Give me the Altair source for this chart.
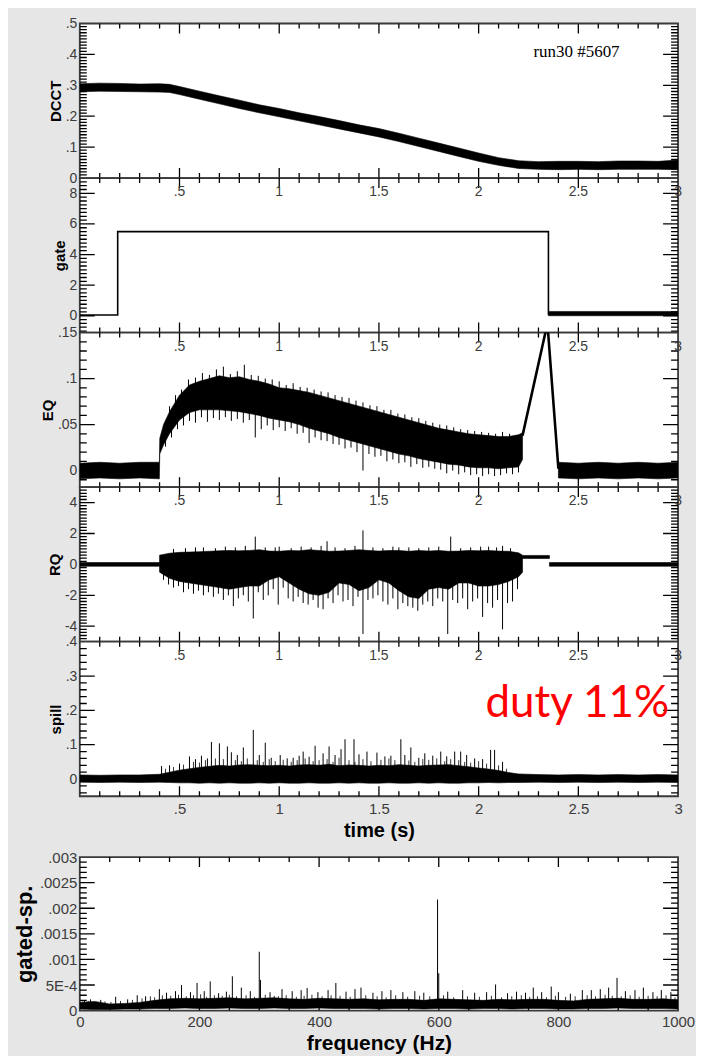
import json
import altair as alt
import pandas as pd

# ---------------------------------------------------------------
# values
# ---------------------------------------------------------------
time_major = [0.5, 1.0, 1.5, 2.0, 2.5, 3.0]

dcct_t = [0.0, 0.1, 0.2, 0.3, 0.4, 0.45, 0.5, 0.6, 0.7, 0.8, 0.9, 1.0, 1.1, 1.2, 1.3, 1.4, 1.5,
          1.6, 1.7, 1.8, 1.9, 2.0, 2.1, 2.2, 2.3, 2.4, 2.5, 2.6, 2.7, 2.8, 2.9, 3.0]
dcct_hi = [0.305, 0.307, 0.306, 0.304, 0.305, 0.303, 0.296, 0.281, 0.266, 0.252, 0.237, 0.225,
           0.211, 0.199, 0.186, 0.172, 0.160, 0.145, 0.129, 0.113, 0.097, 0.081, 0.066, 0.056,
           0.053, 0.054, 0.054, 0.053, 0.055, 0.055, 0.054, 0.058]
dcct_lo = [0.279, 0.281, 0.280, 0.279, 0.278, 0.277, 0.270, 0.255, 0.240, 0.225, 0.211, 0.198,
           0.185, 0.172, 0.159, 0.146, 0.133, 0.118, 0.102, 0.086, 0.070, 0.054, 0.041, 0.031,
           0.028, 0.027, 0.028, 0.027, 0.028, 0.028, 0.028, 0.027]

gate_t = [0.0, 0.19, 0.19, 2.35, 2.35, 3.0]
gate_v = [0.05, 0.05, 5.5, 5.5, 0.12, 0.12]
gate_thick_t = [2.35, 3.0]
gate_thick_lo = [0.0, 0.0]
gate_thick_hi = [0.28, 0.28]

eq_t = [0.0, 0.1, 0.2, 0.3, 0.399, 0.401, 0.42, 0.45, 0.5, 0.55, 0.6, 0.65, 0.7, 0.75, 0.8, 0.85,
        0.9, 0.95, 1.0, 1.05, 1.1, 1.15, 1.2, 1.25, 1.3, 1.35, 1.4, 1.45, 1.5, 1.55, 1.6, 1.65,
        1.7, 1.75, 1.8, 1.85, 1.9, 1.95, 2.0, 2.05, 2.1, 2.15, 2.2, 2.22]
eq_hi = [0.008, 0.009, 0.008, 0.009, 0.009, 0.035, 0.050, 0.064, 0.082, 0.093, 0.097, 0.100,
         0.103, 0.101, 0.102, 0.099, 0.097, 0.094, 0.090, 0.089, 0.087, 0.085, 0.082, 0.079,
         0.076, 0.073, 0.070, 0.067, 0.064, 0.061, 0.058, 0.055, 0.052, 0.049, 0.046, 0.044,
         0.042, 0.040, 0.039, 0.038, 0.037, 0.037, 0.039, 0.041]
eq_lo = [-0.009, -0.008, -0.009, -0.008, -0.009, 0.018, 0.028, 0.040, 0.055, 0.063, 0.066, 0.066,
         0.066, 0.065, 0.064, 0.062, 0.060, 0.057, 0.055, 0.053, 0.050, 0.046, 0.043, 0.040,
         0.036, 0.033, 0.030, 0.027, 0.024, 0.021, 0.018, 0.016, 0.013, 0.011, 0.009, 0.007,
         0.006, 0.004, 0.003, 0.003, 0.002, 0.003, 0.004, 0.012]
eq2_t = [2.40, 2.5, 2.6, 2.7, 2.8, 2.9, 3.0]
eq2_hi = [0.009, 0.008, 0.009, 0.008, 0.009, 0.008, 0.009]
eq2_lo = [-0.008, -0.009, -0.008, -0.009, -0.008, -0.009, -0.008]
eq_ramp_t = [2.22, 2.345, 2.40]
eq_ramp_v = [0.038, 0.160, 0.002]
eq_dn_t = [0.43, 0.46, 0.49, 0.52, 0.55, 0.58, 0.61, 0.64, 0.67, 0.70,
           0.73, 0.76, 0.79, 0.82, 0.85, 0.88, 0.91, 0.94, 0.97, 1.00,
           1.03, 1.06, 1.09, 1.12, 1.15, 1.18, 1.21, 1.24, 1.27, 1.30,
           1.33, 1.36, 1.39, 1.42, 1.45, 1.48, 1.51, 1.54, 1.57, 1.60,
           1.63, 1.66, 1.69, 1.72, 1.75, 1.78, 1.81, 1.84, 1.87, 1.90,
           1.93, 1.96, 1.99, 2.02, 2.05, 2.08, 2.11, 2.14, 2.17, 2.20]
eq_dn_tip = [0.026, 0.036, 0.045, 0.049, 0.054, 0.052, 0.058, 0.053, 0.057, 0.055,
             0.058, 0.054, 0.056, 0.052, 0.055, 0.036, 0.045, 0.049, 0.044, 0.047,
             0.043, 0.046, 0.040, 0.041, 0.030, 0.036, 0.033, 0.032, 0.029, 0.028,
             0.024, 0.025, 0.020, 0.000, 0.018, 0.015, 0.016, 0.010, 0.012, 0.008,
             0.009, 0.004, 0.007, 0.003, 0.004, 0.002, 0.001, -0.003, 0.000, -0.004,
             -0.002, -0.005, -0.004, -0.006, -0.004, -0.006, -0.005, -0.003, -0.004, -0.002]
eq_dn_base = [0.038, 0.049, 0.058, 0.064, 0.069, 0.071, 0.072, 0.072, 0.072, 0.072,
              0.071, 0.071, 0.070, 0.069, 0.068, 0.067, 0.066, 0.064, 0.062, 0.061,
              0.060, 0.059, 0.057, 0.055, 0.052, 0.050, 0.048, 0.047, 0.044, 0.042,
              0.040, 0.038, 0.036, 0.035, 0.033, 0.031, 0.029, 0.027, 0.026, 0.024,
              0.023, 0.021, 0.020, 0.018, 0.017, 0.016, 0.015, 0.013, 0.013, 0.012,
              0.011, 0.010, 0.009, 0.009, 0.009, 0.008, 0.008, 0.009, 0.009, 0.010]
eq_up_t = [0.45, 0.48, 0.51, 0.545, 0.58, 0.615, 0.65, 0.685, 0.72, 0.755,
           0.79, 0.825, 0.86, 0.895, 0.93, 0.965, 1.0, 1.035, 1.07, 1.105,
           1.14, 1.175, 1.21, 1.245, 1.28, 1.315, 1.35, 1.385, 1.42, 1.455,
           1.49, 1.525, 1.56, 1.595, 1.63, 1.665, 1.70, 1.735, 1.77, 1.805,
           1.84, 1.875, 1.91, 1.945, 1.98, 2.015, 2.05, 2.085, 2.12, 2.155]
eq_up_tip = [0.070, 0.082, 0.088, 0.099, 0.101, 0.106, 0.104, 0.110, 0.113, 0.105,
             0.108, 0.115, 0.104, 0.103, 0.100, 0.099, 0.097, 0.093, 0.095, 0.091,
             0.090, 0.088, 0.086, 0.085, 0.082, 0.080, 0.079, 0.076, 0.074, 0.071,
             0.070, 0.066, 0.066, 0.062, 0.061, 0.058, 0.057, 0.054, 0.052, 0.050,
             0.049, 0.047, 0.045, 0.044, 0.043, 0.042, 0.041, 0.040, 0.042, 0.040]
eq_up_base = [0.058, 0.069, 0.078, 0.086, 0.089, 0.092, 0.094, 0.096, 0.096, 0.095,
              0.096, 0.094, 0.093, 0.091, 0.089, 0.087, 0.084, 0.083, 0.082, 0.081,
              0.079, 0.077, 0.075, 0.073, 0.071, 0.069, 0.067, 0.065, 0.063, 0.061,
              0.059, 0.056, 0.054, 0.052, 0.050, 0.048, 0.046, 0.044, 0.042, 0.040,
              0.038, 0.037, 0.036, 0.034, 0.033, 0.032, 0.032, 0.031, 0.031, 0.031]

rq_a_t = [0.0, 0.4]
rq_a_hi = [0.12, 0.12]
rq_a_lo = [-0.12, -0.12]
rq_t = [0.40, 0.45, 0.50, 0.55, 0.60, 0.65, 0.70, 0.75, 0.80, 0.85, 0.90, 0.95, 1.00, 1.05, 1.10,
        1.15, 1.20, 1.25, 1.30, 1.35, 1.40, 1.45, 1.50, 1.55, 1.60, 1.65, 1.70, 1.75, 1.80, 1.85,
        1.90, 1.95, 2.00, 2.05, 2.10, 2.15, 2.20, 2.22]
rq_hi = [0.6, 0.72, 0.78, 0.80, 0.82, 0.85, 0.88, 0.90, 0.88, 0.90, 0.95, 0.86, 0.85, 0.90, 0.88,
         0.95, 0.90, 0.85, 0.86, 0.90, 0.95, 0.90, 0.86, 0.90, 0.90, 0.85, 0.90, 0.86, 0.90, 0.85,
         0.86, 0.90, 0.88, 0.90, 0.86, 0.85, 0.75, 0.60]
rq_lo = [-0.5, -0.9, -1.1, -1.2, -1.3, -1.4, -1.5, -1.6, -1.5, -1.4, -1.4, -1.0, -0.8, -1.2, -1.6,
         -1.9, -2.0, -1.8, -1.2, -1.3, -1.7, -1.5, -1.0, -1.2, -1.7, -2.1, -2.2, -1.6, -1.5, -1.6,
         -1.2, -1.2, -1.4, -1.4, -1.3, -1.1, -0.8, -0.5]
rq_c_t = [2.22, 2.355]
rq_c_hi = [0.58, 0.58]
rq_c_lo = [0.38, 0.38]
rq_d_t = [2.355, 3.0]
rq_d_hi = [0.12, 0.12]
rq_d_lo = [-0.12, -0.12]
rq_dn_t = [0.42, 0.445, 0.47, 0.495, 0.52, 0.545, 0.57, 0.595, 0.62, 0.645,
           0.67, 0.695, 0.72, 0.745, 0.77, 0.795, 0.82, 0.845, 0.87, 0.895,
           0.92, 0.945, 0.97, 0.995, 1.02, 1.045, 1.07, 1.095, 1.12, 1.145,
           1.17, 1.195, 1.22, 1.245, 1.27, 1.295, 1.32, 1.345, 1.37, 1.395,
           1.42, 1.445, 1.47, 1.495, 1.52, 1.545, 1.57, 1.595, 1.62, 1.645,
           1.67, 1.695, 1.72, 1.745, 1.77, 1.795, 1.82, 1.845, 1.87, 1.895,
           1.92, 1.945, 1.97, 1.995, 2.02, 2.045, 2.07, 2.095, 2.12, 2.145,
           2.17, 2.195]
rq_dn_tip = [-1.0, -1.3, -1.5, -1.4, -1.8, -1.6, -1.9, -1.7, -2.0, -1.8,
             -2.1, -1.9, -2.3, -2.0, -2.7, -2.2, -2.0, -2.4, -3.5, -1.8,
             -2.3, -2.0, -1.6, -2.6, -1.5, -2.2, -2.4, -2.1, -2.5, -2.6,
             -2.3, -2.8, -2.9, -2.2, -2.5, -2.0, -2.4, -2.3, -2.7, -2.1,
             -4.5, -2.3, -2.2, -2.0, -2.4, -2.6, -2.2, -2.9, -2.5, -2.7,
             -2.8, -3.0, -2.6, -2.4, -2.7, -2.2, -2.4, -4.5, -2.3, -2.5,
             -2.2, -2.9, -2.4, -2.2, -3.4, -2.5, -2.8, -2.3, -4.2, -2.5,
             -2.4, -1.6]
rq_up_t = [0.47, 0.53, 0.58, 0.62, 0.68, 0.73, 0.78, 0.83, 0.88, 0.93,
           0.98, 1.00, 1.06, 1.11, 1.16, 1.21, 1.24, 1.28, 1.33, 1.38,
           1.42, 1.47, 1.52, 1.57, 1.60, 1.65, 1.70, 1.75, 1.80, 1.86,
           1.91, 1.96, 2.01, 2.05, 2.09, 2.12, 2.16]
rq_up_tip = [1.0, 1.05, 1.1, 1.1, 1.05, 1.15, 1.1, 1.2, 1.8, 1.1,
             1.1, 1.15, 1.05, 1.15, 1.1, 1.2, 1.5, 1.1, 1.05, 1.2,
             2.2, 1.1, 1.05, 1.15, 1.1, 1.1, 1.05, 1.1, 1.15, 1.8,
             1.05, 1.1, 1.15, 1.15, 1.1, 1.2, 1.05]

sp_t = [0.0, 0.1, 0.2, 0.3, 0.4, 0.45, 0.5, 0.55, 0.6, 0.65, 0.7, 0.75, 0.8, 0.85, 0.9, 0.95, 1.0,
        1.05, 1.1, 1.15, 1.2, 1.25, 1.3, 1.35, 1.4, 1.45, 1.5, 1.55, 1.6, 1.65, 1.7, 1.75, 1.8,
        1.85, 1.9, 1.95, 2.0, 2.05, 2.1, 2.15, 2.2, 2.3, 2.4, 2.5, 2.6, 2.7, 2.8, 2.9, 3.0]
sp_hi = [0.012, 0.011, 0.012, 0.012, 0.014, 0.020, 0.026, 0.030, 0.034, 0.037, 0.040, 0.038,
         0.041, 0.042, 0.040, 0.039, 0.040, 0.038, 0.041, 0.042, 0.040, 0.043, 0.039, 0.041,
         0.040, 0.038, 0.040, 0.039, 0.042, 0.040, 0.038, 0.040, 0.041, 0.042, 0.039, 0.036,
         0.032, 0.029, 0.025, 0.019, 0.015, 0.013, 0.012, 0.013, 0.012, 0.013, 0.012, 0.013, 0.012]
sp_lo = [-0.009, -0.010, -0.009, -0.010, -0.009, -0.010, -0.011, -0.011, -0.012, -0.011, -0.012,
         -0.011, -0.012, -0.012, -0.011, -0.012, -0.011, -0.012, -0.012, -0.011, -0.012, -0.012,
         -0.011, -0.012, -0.011, -0.012, -0.012, -0.011, -0.012, -0.012, -0.011, -0.012, -0.011,
         -0.012, -0.012, -0.011, -0.011, -0.010, -0.011, -0.010, -0.010, -0.009, -0.010, -0.009,
         -0.010, -0.009, -0.010, -0.009, -0.010]
sp_spike_t = [0.41, 0.45, 0.50, 0.55, 0.58, 0.61, 0.64, 0.66, 0.70, 0.74, 0.76, 0.79, 0.82, 0.87,
              0.90, 0.93, 0.96, 1.005, 1.04, 1.07, 1.10, 1.12, 1.15, 1.18, 1.22, 1.25, 1.28, 1.31,
              1.33, 1.375, 1.40, 1.44, 1.49, 1.53, 1.56, 1.61, 1.63, 1.66, 1.70, 1.73, 1.77, 1.81,
              1.84, 1.88, 1.91, 1.94, 1.98, 2.02, 2.06, 2.08, 2.12]
sp_spike_tip = [0.038, 0.040, 0.045, 0.066, 0.058, 0.068, 0.060, 0.108, 0.104, 0.095, 0.078,
                0.070, 0.092, 0.143, 0.070, 0.106, 0.062, 0.070, 0.060, 0.062, 0.068, 0.080,
                0.065, 0.097, 0.075, 0.095, 0.070, 0.087, 0.116, 0.116, 0.072, 0.080, 0.077,
                0.066, 0.068, 0.116, 0.070, 0.092, 0.062, 0.075, 0.068, 0.080, 0.066, 0.080,
                0.080, 0.070, 0.060, 0.058, 0.085, 0.085, 0.050]
sp_hair_t = [0.43, 0.47, 0.52, 0.57, 0.60, 0.63, 0.68, 0.72, 0.78, 0.81, 0.84, 0.89, 0.92, 0.95,
             0.98, 1.02, 1.06, 1.09, 1.13, 1.17, 1.20, 1.24, 1.27, 1.30, 1.35, 1.38, 1.42, 1.46,
             1.51, 1.55, 1.58, 1.65, 1.68, 1.72, 1.75, 1.79, 1.83, 1.86, 1.90, 1.93, 1.96, 2.00,
             2.04, 2.10, 2.14]
sp_hair_tip = [0.030, 0.035, 0.042, 0.050, 0.048, 0.055, 0.060, 0.058, 0.055, 0.052, 0.060,
               0.055, 0.050, 0.058, 0.052, 0.056, 0.050, 0.055, 0.060, 0.052, 0.055, 0.058,
               0.050, 0.062, 0.055, 0.050, 0.058, 0.052, 0.056, 0.060, 0.055, 0.054, 0.050,
               0.058, 0.056, 0.060, 0.052, 0.058, 0.055, 0.050, 0.048, 0.052, 0.045, 0.040, 0.030]

fr_f = [0, 25, 50, 75, 100, 125, 150, 175, 200, 225, 250, 275, 300, 325, 350, 375, 400, 425, 450,
        475, 500, 525, 550, 575, 600, 625, 650, 675, 700, 725, 750, 775, 800, 825, 850, 875, 900,
        925, 950, 975, 1000]
fr_hi = [0.00016, 0.00018, 0.00013, 0.00014, 0.00016, 0.00020, 0.00023, 0.00024, 0.00023, 0.00024,
         0.00025, 0.00023, 0.00024, 0.00025, 0.00023, 0.00022, 0.00024, 0.00023, 0.00022, 0.00023,
         0.00021, 0.00022, 0.00022, 0.00020, 0.00023, 0.00022, 0.00021, 0.00020, 0.00022, 0.00021,
         0.00022, 0.00022, 0.00020, 0.00019, 0.00022, 0.00023, 0.00024, 0.00022, 0.00022, 0.00023,
         0.00021]
fr_lo = [0.00003, 0.00002, 0.00002, 0.00003, 0.00003, 0.00004, 0.00004, 0.00005, 0.00004, 0.00004,
         0.00005, 0.00004, 0.00004, 0.00005, 0.00004, 0.00004, 0.00005, 0.00004, 0.00004, 0.00004,
         0.00003, 0.00004, 0.00004, 0.00003, 0.00004, 0.00004, 0.00003, 0.00004, 0.00004, 0.00003,
         0.00004, 0.00004, 0.00003, 0.00003, 0.00004, 0.00004, 0.00005, 0.00004, 0.00004, 0.00004,
         0.00003]
fr_spike_f = [8, 18, 35, 60, 80, 96, 110, 133, 145, 160, 170, 185, 196, 208, 218, 232, 245, 255,
              270, 285, 300, 302, 318, 338, 355, 370, 380, 398, 415, 428, 445, 460, 470, 490, 505,
              520, 540, 560, 575, 598, 600, 615, 640, 660, 680, 695, 715, 730, 745, 758, 772, 788,
              800, 820, 840, 855, 870, 884, 898, 912, 928, 942, 958, 972, 988]
fr_spike_tip = [0.0002, 0.00022, 0.00021, 0.00027, 0.00022, 0.0003, 0.00028, 0.00042, 0.00035,
                0.00038, 0.0005, 0.00036, 0.00054, 0.00038, 0.00057, 0.00034, 0.00037, 0.00067,
                0.00045, 0.00038, 0.00115, 0.0006, 0.00036, 0.00042, 0.00038, 0.0004, 0.00044,
                0.00036, 0.0004, 0.00054, 0.00037, 0.00042, 0.00045, 0.00035, 0.00038, 0.0004,
                0.00036, 0.00038, 0.00035, 0.00217, 0.00073, 0.00037, 0.0004, 0.00035, 0.00036,
                0.00051, 0.00034, 0.00037, 0.00035, 0.00045, 0.00036, 0.00047, 0.00036, 0.00033,
                0.0004, 0.0004, 0.00042, 0.00045, 0.00064, 0.00038, 0.0004, 0.00045, 0.00036,
                0.0004, 0.00036]
fr_hair_f = [5, 14, 28, 42, 52, 68, 88, 104, 118, 125, 138, 152, 165, 178, 190, 202, 212, 225, 238,
             250, 262, 278, 292, 310, 325, 332, 345, 362, 375, 388, 405, 420, 435, 452, 478, 497,
             512, 528, 548, 568, 585, 608, 625, 648, 668, 688, 705, 722, 738, 752, 765, 780, 795,
             812, 828, 848, 862, 878, 890, 905, 920, 935, 950, 965, 980, 995]
fr_hair_tip = [0.00018, 0.00019, 0.00016, 0.00018, 0.00017, 0.00019, 0.00021, 0.00024, 0.00028,
               0.00026, 0.0003, 0.00029, 0.00031, 0.00028, 0.0003, 0.00032, 0.00027, 0.0003,
               0.00029, 0.00031, 0.00028, 0.0003, 0.00027, 0.00031, 0.00029, 0.00028, 0.0003,
               0.00027, 0.00029, 0.00031, 0.00028, 0.0003, 0.00029, 0.00027, 0.0003, 0.00028,
               0.00026, 0.0003, 0.00027, 0.00029, 0.00028, 0.0003, 0.00026, 0.00028, 0.00027,
               0.00029, 0.00026, 0.00028, 0.0003, 0.00027, 0.00028, 0.00026, 0.00029, 0.00027,
               0.00028, 0.0003, 0.00028, 0.00031, 0.00029, 0.00028, 0.0003, 0.00027, 0.00029,
               0.00028, 0.0003, 0.00026]

run_note = ["run30 #5607"]
duty_note = ["duty 11%"]

# ---------------------------------------------------------------
# styling
# ---------------------------------------------------------------
W, H = 600, 155
FW, FH = 600, 154
FONT = "Liberation Sans"
LABEL_COLOR = "#3c3c3c"
FRAME = "#3a3a3a"
TICK = "#111111"
LBL = "(datum.value == 0.0005 ? '5E-4' : replace('' + datum.value, '0.', '.'))"


def ticks_between(lo, hi, step, skip):
    n = int(round((hi - lo) / step))
    out = []
    for i in range(n + 1):
        v = round(lo + i * step, 6)
        if all(abs(v - s) > step / 10 for s in skip):
            out.append(v)
    return out


def is_major(maj):
    return f"indexof({json.dumps(maj)}, datum.value) >= 0"


def major_labels(maj):
    return f"{is_major(maj)} ? {LBL} : ''"


def band(t, lo, hi, seg=0, field="t"):
    return pd.DataFrame({field: t, "v": lo, "v2": hi, "seg": [seg] * len(t)})


def frame_ticks(X, field, xdom, ydom, width, height, xmaj, xmin, ymaj, ymin):
    """Inward frame ticks drawn exactly like the data spikes (black rules, clipped)."""
    ypx = (ydom[1] - ydom[0]) / height
    xpx = (xdom[1] - xdom[0]) / width
    vt, vv, vv2 = [], [], []
    for vals, size in ((xmaj, 10), (xmin, 5)):
        for x in vals:
            vt += [x, x]
            vv += [ydom[1], ydom[0]]
            vv2 += [ydom[1] - size * ypx, ydom[0] + size * ypx]
    ht, ht2, hv = [], [], []
    for vals, size in ((ymaj, 15), (ymin, 7)):
        for y in vals:
            ht += [xdom[0], xdom[1]]
            ht2 += [xdom[0] + size * xpx, xdom[1] - size * xpx]
            hv += [y, y]
    vdf = pd.DataFrame({field: vt, "v": vv, "v2": vv2})
    hdf = pd.DataFrame({field: ht, "e2": ht2, "v": hv})

    def make(Y):
        a = alt.Chart(vdf).mark_rule(color="black", strokeWidth=1.3, clip=True).encode(
            x=X, y=Y, y2="v2:Q")
        b = alt.Chart(hdf).mark_rule(color="black", strokeWidth=1.3, clip=True).encode(
            x=X, x2="e2:Q", y=Y)
        return [a, b]
    return make


x_minor = ticks_between(0, 3, 0.1, time_major + [0.0, 3.0])


def y_axis(title, maj, size=14, tsize=15, pad=2):
    return alt.Axis(values=maj, labelExpr=LBL, ticks=False, domain=False, grid=False,
                    labelFont=FONT, labelFontSize=size, labelColor=LABEL_COLOR, labelPadding=3,
                    labelFlush=False, labelOverlap=False, title=title, titleFont=FONT,
                    titleFontSize=tsize, titleFontWeight="bold", titleColor="black",
                    titlePadding=pad)


def time_panel(title, ydom, ymaj, ymin_step, data_fns, inner_labels=True, bottom=False,
               extra=None):
    if bottom:
        xaxis = alt.Axis(values=time_major, labelExpr=LBL, ticks=False, domain=False,
                         grid=False, labelFont=FONT, labelFontSize=15, labelColor=LABEL_COLOR,
                         labelPadding=5, labelFlush=False, labelOverlap=False, title="time (s)",
                         titleFont=FONT, titleFontSize=20, titleFontWeight="bold",
                         titleColor="black", titlePadding=4)
    else:
        xaxis = None
    start = ymin_step * int(ydom[0] / ymin_step)
    ymin = [v for v in ticks_between(start, ydom[1], ymin_step, ymaj) if ydom[0] < v < ydom[1]]
    ymaj_in = [v for v in ymaj if ydom[0] < v < ydom[1]]
    X = alt.X("t:Q", scale=alt.Scale(domain=[0, 3], nice=False, zero=False), axis=xaxis)
    Y = alt.Y("v:Q", scale=alt.Scale(domain=ydom, nice=False, zero=False),
              axis=y_axis(title, ymaj))
    layers = [fn(X, Y) for fn in data_fns]
    layers += frame_ticks(X, "t", [0, 3], ydom, W, H, [v for v in time_major if v < 3],
                          x_minor, ymaj_in, ymin)(Y)
    if inner_labels:
        layers.append(
            alt.Chart(pd.DataFrame({"t": time_major}))
            .transform_calculate(lab="replace('' + datum.t, '0.', '.')")
            .mark_text(font=FONT, fontSize=14, color=LABEL_COLOR, baseline="middle")
            .encode(x=X, y=alt.value(14), text="lab:N")
        )
    if extra is not None:
        layers += extra
    return alt.layer(*layers).properties(width=W, height=H)


def area_fn(df):
    return lambda X, Y: alt.Chart(df).mark_area(color="black", clip=True, stroke="black",
                                                strokeWidth=0.6).encode(
        x=X, y=Y, y2="v2:Q", detail="seg:N")


def spikes_fn(t, tip, base):
    df = pd.DataFrame({"t": t, "v": tip, "v2": base})
    return lambda X, Y: alt.Chart(df).mark_rule(color="black", strokeWidth=1, clip=True).encode(
        x=X, y=Y, y2="v2:Q")


def spikes0_fn(t, tip, w=1.0):
    df = pd.DataFrame({"t": t, "v": tip})
    return lambda X, Y: alt.Chart(df).mark_rule(color="black", strokeWidth=w, clip=True).encode(
        x=X, y=Y, y2=alt.datum(0))


def line_fn(t, v, width):
    df = pd.DataFrame({"t": t, "v": v, "i": list(range(len(t)))})
    return lambda X, Y: alt.Chart(df).mark_line(color="black", strokeWidth=width, clip=True).encode(
        x=X, y=Y, order="i:Q")


# ---------------- time panels ----------------
run_text = alt.Chart(pd.DataFrame({"note": run_note})).mark_text(
    font="Liberation Serif", fontSize=17, align="left", baseline="alphabetic", color="black"
).encode(text="note:N", x=alt.value(455), y=alt.value(34))

p_dcct = time_panel(
    "DCCT", [0, 0.5], [0, 0.1, 0.2, 0.3, 0.4, 0.5], 0.01,
    [area_fn(band(dcct_t, dcct_lo, dcct_hi))],
    inner_labels=False, extra=[run_text])

p_gate = time_panel(
    "gate", [-1.1, 9], [0, 2, 4, 6, 8], 0.25,
    [line_fn(gate_t, gate_v, 1.6), area_fn(band(gate_thick_t, gate_thick_lo, gate_thick_hi))])

eq_df = pd.concat([band(eq_t, eq_lo, eq_hi, 0), band(eq2_t, eq2_lo, eq2_hi, 1)])
p_eq = time_panel(
    "EQ", [-0.018, 0.15], [0, 0.05, 0.1, 0.15], 0.01,
    [area_fn(eq_df), spikes_fn(eq_dn_t, eq_dn_tip, eq_dn_base),
     spikes_fn(eq_up_t, eq_up_tip, eq_up_base), line_fn(eq_ramp_t, eq_ramp_v, 2.6)])

rq_df = pd.concat([band(rq_a_t, rq_a_lo, rq_a_hi, 0), band(rq_t, rq_lo, rq_hi, 1),
                   band(rq_c_t, rq_c_lo, rq_c_hi, 2), band(rq_d_t, rq_d_lo, rq_d_hi, 3)])
p_rq = time_panel(
    "RQ", [-5, 5], [-4, -2, 0, 2, 4], 0.2,
    [area_fn(rq_df), spikes0_fn(rq_dn_t, rq_dn_tip), spikes0_fn(rq_up_t, rq_up_tip)])

duty_text = alt.Chart(pd.DataFrame({"note": duty_note})).mark_text(
    font="Lato", fontSize=44, align="right", baseline="alphabetic", color="#ff0000"
).encode(text="note:N", x=alt.value(591), y=alt.value(76))

p_spill = time_panel(
    "spill", [-0.05, 0.4], [0, 0.1, 0.2, 0.3, 0.4], 0.02,
    [area_fn(band(sp_t, sp_lo, sp_hi)), spikes0_fn(sp_spike_t, sp_spike_tip),
     spikes0_fn(sp_hair_t, sp_hair_tip, 0.8)],
    bottom=True, extra=[duty_text])

# ---------------- frequency panel ----------------
fr_x_major = [0, 200, 400, 600, 800, 1000]
fr_x_minor = ticks_between(0, 1000, 50, fr_x_major)
fr_major_y = [0, 0.0005, 0.001, 0.0015, 0.002, 0.0025, 0.003]
fr_y_minor = [v for v in ticks_between(0, 0.003, 0.0001, fr_major_y) if 0 < v < 0.003]

FX = alt.X("f:Q", scale=alt.Scale(domain=[0, 1000], nice=False, zero=False),
           axis=alt.Axis(values=fr_x_major, labelExpr=LBL, ticks=False, domain=False,
                         grid=False, labelFont=FONT, labelFontSize=15, labelColor=LABEL_COLOR,
                         labelPadding=4, labelFlush=False, labelOverlap=False,
                         title="frequency (Hz)", titleFont=FONT, titleFontSize=21,
                         titleFontWeight="bold", titleColor="black", titlePadding=3))
FY = alt.Y("v:Q", scale=alt.Scale(domain=[0, 0.003], nice=False, zero=False),
           axis=y_axis("gated-sp.", fr_major_y, size=15, tsize=22, pad=3))

fr_band = alt.Chart(band(fr_f, fr_lo, fr_hi, field="f")).mark_area(
    color="black", clip=True, stroke="black", strokeWidth=0.6).encode(x=FX, y=FY, y2="v2:Q")
fr_spikes = alt.Chart(pd.DataFrame({"f": fr_spike_f, "v": fr_spike_tip})).mark_rule(
    color="black", strokeWidth=1, clip=True).encode(x=FX, y=FY, y2=alt.datum(0.0001))
fr_hairs = alt.Chart(pd.DataFrame({"f": fr_hair_f, "v": fr_hair_tip})).mark_rule(
    color="black", strokeWidth=0.8, clip=True).encode(x=FX, y=FY, y2=alt.datum(0.0001))
fr_ticks = frame_ticks(FX, "f", [0, 1000], [0, 0.003], FW, FH, [200, 400, 600, 800],
                       fr_x_minor, [v for v in fr_major_y if 0 < v < 0.003], fr_y_minor)(FY)
p_freq = alt.layer(fr_band, fr_hairs, fr_spikes, *fr_ticks).properties(width=FW, height=FH)

# ---------------- assemble ----------------
stack = alt.vconcat(p_dcct, p_gate, p_eq, p_rq, p_spill, spacing=0, bounds="flush")
chart = (
    alt.vconcat(stack, p_freq, spacing=8)
    .properties(background="#e6e6e6", padding={"left": 4, "top": 6, "right": 0, "bottom": 0})
    .configure_view(stroke=FRAME, strokeWidth=1.8, fill="white")
)

chart.save("out.html", embed_options={"renderer": "svg", "actions": False})
